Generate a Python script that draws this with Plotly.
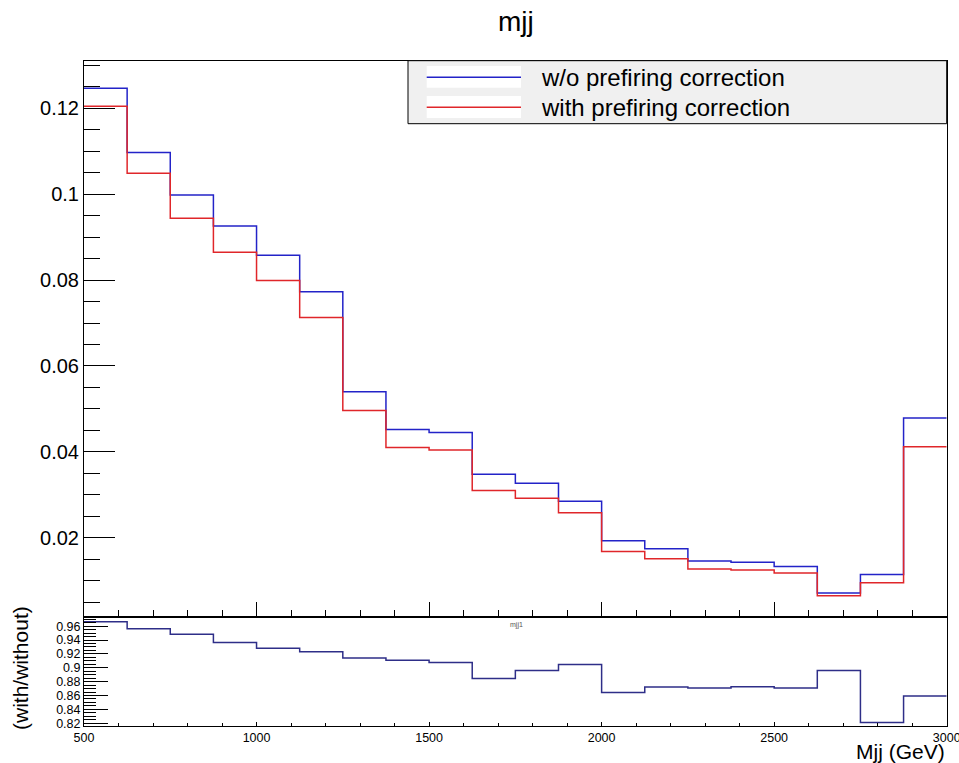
import plotly.graph_objects as go

# ---- data ----
bin_edges = [500, 625, 750, 875, 1000, 1125, 1250, 1375, 1500, 1625, 1750,
             1875, 2000, 2125, 2250, 2375, 2500, 2625, 2750, 2875, 3000]
without_corr = [0.1247, 0.1097, 0.0998, 0.0926, 0.0858, 0.0773, 0.0540, 0.0452,
                0.0445, 0.0348, 0.0327, 0.0285, 0.0193, 0.0174, 0.0146, 0.0143,
                0.0133, 0.0071, 0.0114, 0.0479]
with_corr = [0.1205, 0.1049, 0.0944, 0.0865, 0.0799, 0.0713, 0.0496, 0.0410,
             0.0404, 0.0310, 0.0292, 0.0258, 0.0168, 0.0151, 0.0127, 0.0125,
             0.0118, 0.0065, 0.0095, 0.0412]
ratio = [0.9664, 0.9562, 0.9484, 0.9364, 0.9281, 0.9229, 0.9141, 0.9107,
         0.9074, 0.8846, 0.8962, 0.9045, 0.8643, 0.8722, 0.8707, 0.8726,
         0.8707, 0.8962, 0.8209, 0.8591]

series_names = ["w/o prefiring correction", "with prefiring correction"]
title_text = "mjj"
ratio_title = "mjj1"
x_title = "Mjj (GeV)"
ratio_y_title = "(with/without)"

BLUE = "#2323c8"
RED = "#e0262a"
NAVY = "#2e2e88"
FONT = "Liberation Sans, Arial, Helvetica, sans-serif"

W, H = 959, 763


def px(x):
    return x / W


def py(y):
    return 1 - y / H


def steps(vals):
    return bin_edges, list(vals) + [vals[-1]]


fig = go.Figure()
xs, ys = steps(without_corr)
fig.add_trace(go.Scatter(x=xs, y=ys, mode="lines", line=dict(color=BLUE, width=1.5, shape="hv"),
                         name=series_names[0], xaxis="x", yaxis="y", showlegend=False))
xs, ys = steps(with_corr)
fig.add_trace(go.Scatter(x=xs, y=ys, mode="lines", line=dict(color=RED, width=1.5, shape="hv"),
                         name=series_names[1], xaxis="x", yaxis="y", showlegend=False))
xs, ys = steps(ratio)
fig.add_trace(go.Scatter(x=xs, y=ys, mode="lines", line=dict(color=NAVY, width=1.5, shape="hv"),
                         name="ratio", xaxis="x2", yaxis="y2", showlegend=False))

x_dom = [px(84), px(946.7)]
top_dom = [py(616.7), py(60.7)]
bot_dom = [py(726), py(616.7)]

common_axis = dict(showline=True, linecolor="black", linewidth=1, mirror=True,
                   showgrid=False, zeroline=False, ticks="inside", tickcolor="black",
                   tickwidth=1, automargin=False)

fig.update_layout(
    width=W, height=H,
    margin=dict(l=0, r=0, t=0, b=0, pad=0, autoexpand=False),
    paper_bgcolor="white", plot_bgcolor="white",
    font=dict(family=FONT, color="black"),
    xaxis=dict(**common_axis, domain=x_dom, range=[500, 3000], anchor="y",
               dtick=500, tick0=0, ticklen=15, showticklabels=False,
               minor=dict(dtick=100, ticklen=7, ticks="inside", tickcolor="black")),
    yaxis=dict(**common_axis, domain=top_dom, range=[0.0016, 0.1311], anchor="x",
               dtick=0.02, tick0=0, ticklen=31, tickformat=".2~f",
               tickfont=dict(size=20, family=FONT),
               minor=dict(dtick=0.005, ticklen=16, ticks="inside", tickcolor="black")),
    xaxis2=dict(**common_axis, domain=x_dom, range=[500, 3000], anchor="y2",
                dtick=500, tick0=0, ticklen=4, ticklabeloverflow="allow",
                tickfont=dict(size=12.5, family=FONT),
                minor=dict(dtick=100, ticklen=3, ticks="inside", tickcolor="black")),
    yaxis2=dict(**common_axis, domain=bot_dom, range=[0.816, 0.9736], anchor="x2",
                dtick=0.02, tick0=0, ticklen=24, tickformat=".2~f",
                tickfont=dict(size=12.5, family=FONT),
                minor=dict(dtick=0.005, ticklen=12, ticks="inside", tickcolor="black")),
)

# ---- legend box (ROOT style) ----
shapes = [
    dict(type="rect", xref="paper", yref="paper", x0=px(408), x1=px(946.7),
         y0=py(123.7), y1=py(60.7), fillcolor="#f0f0f0", line=dict(color="black", width=1),
         layer="above"),
    dict(type="rect", xref="paper", yref="paper", x0=px(426.7), x1=px(521),
         y0=py(87.7), y1=py(66), fillcolor="white", line=dict(width=0), layer="above"),
    dict(type="rect", xref="paper", yref="paper", x0=px(426.7), x1=px(521),
         y0=py(118), y1=py(96), fillcolor="white", line=dict(width=0), layer="above"),
    dict(type="line", xref="paper", yref="paper", x0=px(426.7), x1=px(521),
         y0=py(77.3), y1=py(77.3), line=dict(color=BLUE, width=1.5), layer="above"),
    dict(type="line", xref="paper", yref="paper", x0=px(426.7), x1=px(521),
         y0=py(107.3), y1=py(107.3), line=dict(color=RED, width=1.5), layer="above"),
]
fig.update_layout(shapes=shapes)

annotations = [
    dict(text=series_names[0], x=px(539), y=py(77), xanchor="left", yanchor="middle",
         font=dict(size=24, family=FONT, color="black")),
    dict(text=series_names[1], x=px(539), y=py(107), xanchor="left", yanchor="middle",
         font=dict(size=24, family=FONT, color="black")),
    dict(text=title_text, x=px(516), y=py(22), xanchor="center", yanchor="middle",
         font=dict(size=28, family=FONT, color="black")),
    dict(text=ratio_title, x=px(516), y=py(624.5), xanchor="center", yanchor="middle",
         font=dict(size=7, family=FONT, color="#555555")),
    dict(text=x_title, x=px(947), y=py(751), xanchor="right", yanchor="middle",
         font=dict(size=21, family=FONT, color="black")),
    dict(text=ratio_y_title, x=px(20), y=py(668), xanchor="center", yanchor="middle",
         textangle=-90, font=dict(size=21, family=FONT, color="black")),
]
for a in annotations:
    a.update(xref="paper", yref="paper", showarrow=False)
fig.update_layout(annotations=annotations)

fig.write_html("out.html")
